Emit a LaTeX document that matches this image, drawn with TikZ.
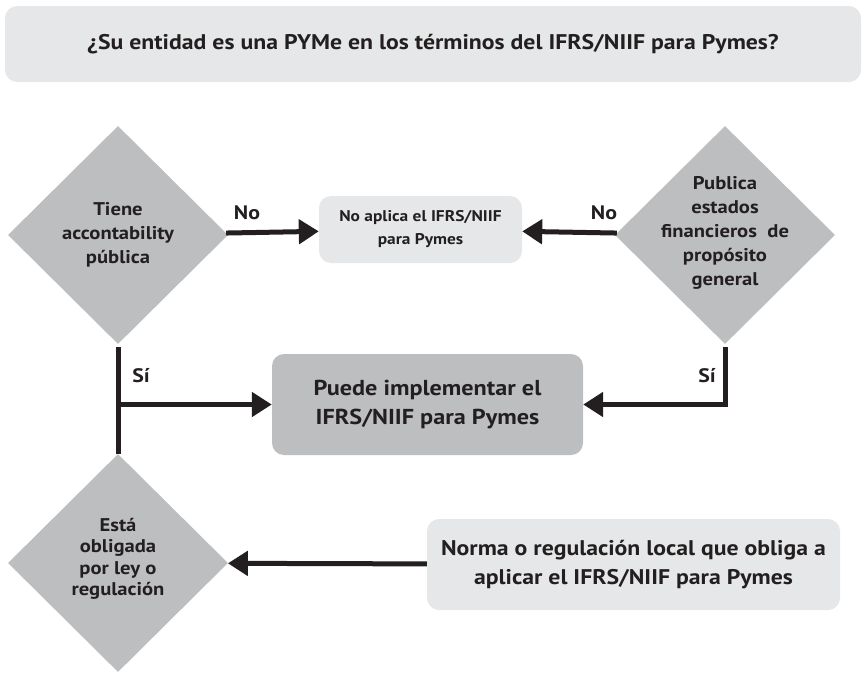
\documentclass[tikz,border=0pt]{standalone}
\usepackage{fontspec}
\setsansfont{PT Sans}[FakeStretch=1.12]
\usetikzlibrary{arrows.meta,positioning,shapes.geometric}
\definecolor{PaleGray}{HTML}{E6E7E8}
\definecolor{MidGray}{HTML}{BCBEC0}
\definecolor{Ink}{HTML}{231F20}

\begin{document}
\begin{tikzpicture}[
  x=1pt,y=-1pt,
  box/.style={rounded corners=12pt,align=center,text=Ink,inner sep=0pt,font=\sffamily\bfseries},
  decision/.style={diamond,aspect=1,fill=MidGray,inner sep=0pt,minimum width=220pt,minimum height=218pt},
  asks/.style={align=center,text=Ink,inner sep=0pt,font=\sffamily\bfseries\fontsize{18.4}{24}\selectfont},
  flow/.style={-{Triangle[length=20pt,width=24pt]},line width=5pt,draw=Ink},
  tag/.style={text=Ink,font=\sffamily\bfseries\fontsize{19.5}{22}\selectfont}
]
\useasboundingbox (0,0) rectangle (862,672);
\node[box,fill=PaleGray,minimum width=856pt,minimum height=76pt,font=\sffamily\bfseries\fontsize{21.2}{24}\selectfont] (question) at (433,44) {\raisebox{-3pt}{¿Su entidad es una PYMe en los términos del IFRS/NIIF para Pymes?}};
\node[decision,label={[asks]center:{Tiene\\accontability\\pública}}] (accnt) at (118,235) {};
\node[decision,label={[asks,yshift=2pt]center:{Publica\\estados\\financieros~ de\\propósito\\general}}] (publica) at (725,235) {};
\node[decision,label={[asks,font=\sffamily\bfseries\fontsize{18.4}{21.5}\selectfont,yshift=4pt]center:{Está\\obligada\\por ley o\\regulación}}] (ley) at (118,563) {};
\node[box,fill=PaleGray,minimum width=203pt,minimum height=67pt,font=\sffamily\bfseries\fontsize{15.5}{23}\selectfont] (noaplica) at (420.5,229.5) {No aplica el IFRS/NIIF\\para Pymes};
\node[box,fill=MidGray,minimum width=311pt,minimum height=101pt,font=\sffamily\bfseries\fontsize{21.6}{29}\selectfont] (puede) at (427.5,404.5) {Puede implementar el\\IFRS/NIIF para Pymes};
\node[box,fill=PaleGray,minimum width=413pt,minimum height=91pt,font=\sffamily\bfseries\fontsize{21.2}{29}\selectfont] (norma) at (633.5,564.5) {Norma o regulación local que obliga a\\aplicar el IFRS/NIIF para Pymes};
% connectors
\foreach \a/\b in {accnt/noaplica,publica/noaplica,norma/ley}{\draw[flow] (\a) -- (\b);}
\draw[line width=5pt,draw=Ink] ([yshift=-3pt]accnt.south) -- (ley.north);
\coordinate (split) at (accnt.south |- puede.west);
\draw[flow] (split) -- (puede.west);
\draw[flow] ([yshift=-3pt]publica.south) |- (puede.east);
\node[tag] (no1) at (247,213) {No};
\node[tag] (no2) at (604,213) {No};
\node[tag] (si1) at (141,376) {Sí};
\node[tag] (si2) at (707,376) {Sí};
\end{tikzpicture}
\end{document}
